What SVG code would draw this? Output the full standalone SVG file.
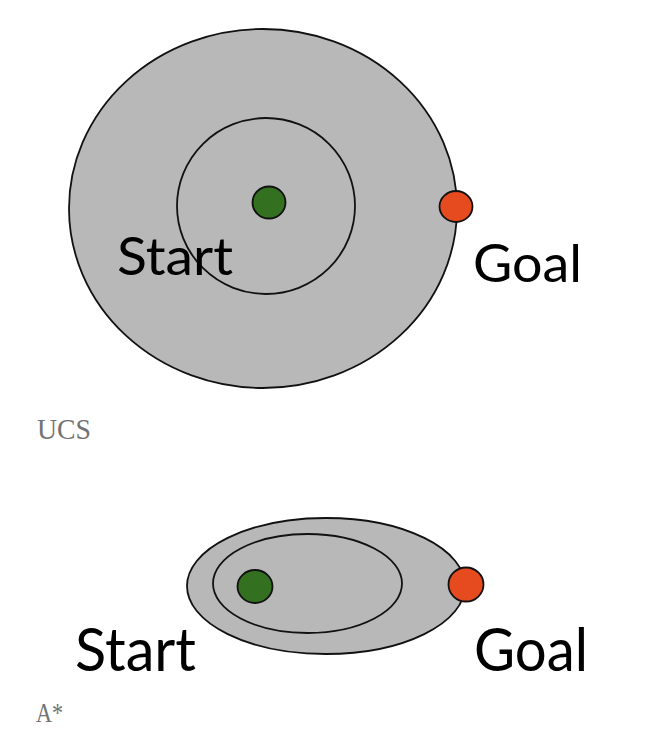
<svg xmlns="http://www.w3.org/2000/svg" width="650" height="752" viewBox="0 0 650 752">
  <style>
    .region { fill: #b8b8b8; stroke: #111; stroke-width: 1.8; }
    .ring { fill: none; stroke: #111; stroke-width: 1.8; }
    .start { fill: #33701f; stroke: #111; stroke-width: 1.8; }
    .goal { fill: #e64a1f; stroke: #111; stroke-width: 1.8; }
    .lbl { font-family: Lato, "Liberation Sans", sans-serif; fill: #000; }
    .cap { font-family: "Liberation Serif", serif; fill: #737373; }
  </style>
  <rect width="650" height="752" fill="#fff"/>

  <g id="ucs">
    <ellipse id="ucs-outer" class="region" cx="263" cy="208.5" rx="194" ry="179.5"/>
    <ellipse id="ucs-inner" class="ring" cx="266" cy="206" rx="89" ry="88"/>
    <g id="ucs-start-node">
      <ellipse class="start" cx="269" cy="202.5" rx="16.5" ry="16"/>
      <text class="lbl" x="117" y="275" font-size="53" textLength="116" lengthAdjust="spacingAndGlyphs">Start</text>
    </g>
    <g id="ucs-goal-node">
      <ellipse class="goal" cx="456" cy="206.5" rx="16.5" ry="15.5"/>
      <text class="lbl" x="473" y="282" font-size="53" textLength="109" lengthAdjust="spacingAndGlyphs">Goal</text>
    </g>
    <text class="cap" x="37" y="439" font-size="30" textLength="54" lengthAdjust="spacingAndGlyphs">UCS</text>
  </g>

  <g id="astar">
    <ellipse id="astar-outer" class="region" cx="326" cy="586" rx="139" ry="68"/>
    <ellipse id="astar-inner" class="ring" cx="307.5" cy="583.5" rx="94.5" ry="49.5"/>
    <g id="astar-start-node">
      <ellipse class="start" cx="255" cy="586.5" rx="17.5" ry="16.5"/>
      <text class="lbl" x="75" y="671" font-size="60" textLength="121" lengthAdjust="spacingAndGlyphs">Start</text>
    </g>
    <g id="astar-goal-node">
      <ellipse class="goal" cx="466" cy="584.5" rx="17.5" ry="17"/>
      <text class="lbl" x="474" y="671" font-size="60" textLength="114" lengthAdjust="spacingAndGlyphs">Goal</text>
    </g>
    <text class="cap" x="36" y="722" font-size="27" textLength="27" lengthAdjust="spacingAndGlyphs">A*</text>
  </g>

  <g id="connectors"/>
</svg>
